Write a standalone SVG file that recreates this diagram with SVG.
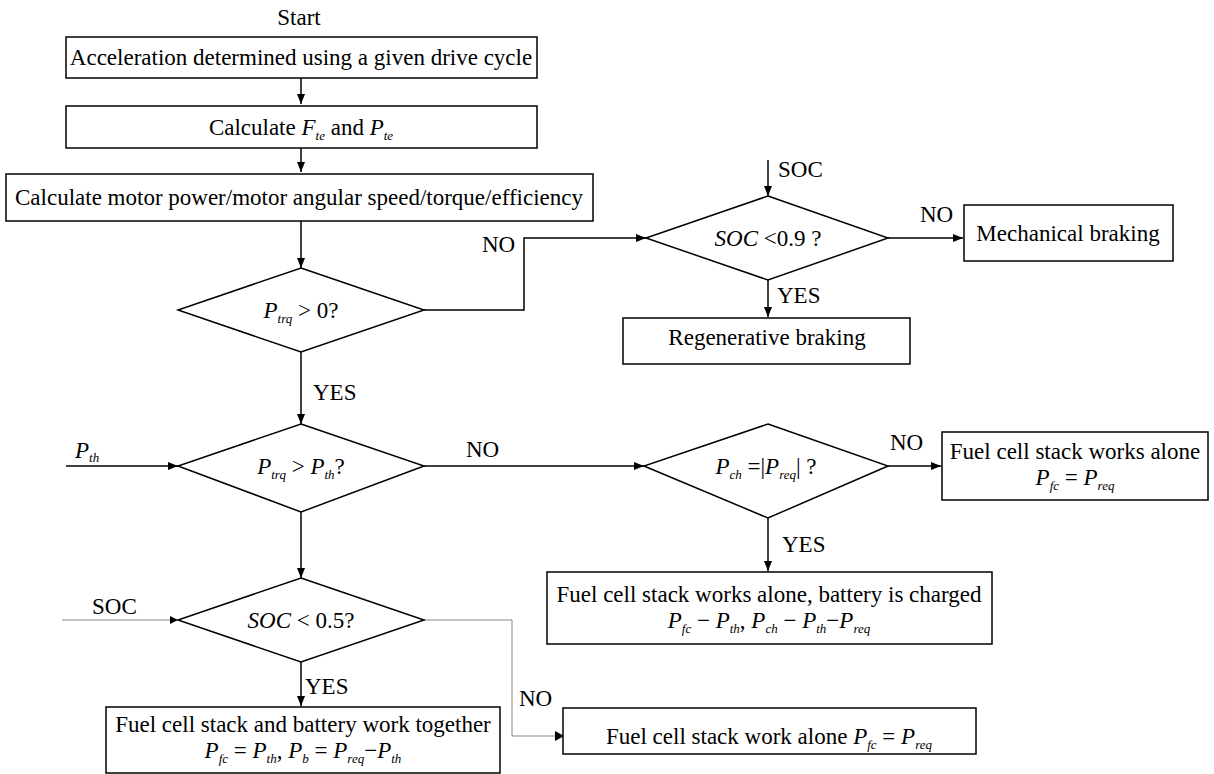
<svg xmlns="http://www.w3.org/2000/svg" width="1214" height="774" viewBox="0 0 1214 774" font-family="'Liberation Serif', 'DejaVu Serif', serif">
<defs>
<marker id="ah" viewBox="0 0 10 10" refX="10" refY="5" markerWidth="10" markerHeight="10" markerUnits="userSpaceOnUse" orient="auto">
<path d="M0,1 L10,5 L0,9 Z" fill="#000"/>
</marker>
<style>
text{font-family:'Liberation Serif','DejaVu Serif',serif;font-size:23px;fill:#000}
.c{text-anchor:middle}
.i{font-style:italic}
.s{font-size:13px;font-style:italic}
.box{fill:#fff;stroke:#000;stroke-width:1.5}
.ln{fill:none;stroke:#000;stroke-width:1.5}
.gl{fill:none;stroke:#888;stroke-width:1}
</style>
</defs>
<rect width="1214" height="774" fill="#fff"/>
<g id="connectors">
<path class="ln" d="M301,78 V104" marker-end="url(#ah)"/>
<path class="ln" d="M301,148 V172" marker-end="url(#ah)"/>
<path class="ln" d="M301,221 V268" marker-end="url(#ah)"/>
<path class="ln" d="M424,310 H524 V238 H646" marker-end="url(#ah)"/>
<path class="ln" d="M768,160 V196" marker-end="url(#ah)"/>
<path class="ln" d="M888,238 H963" marker-end="url(#ah)"/>
<path class="ln" d="M768,280 V317" marker-end="url(#ah)"/>
<path class="ln" d="M301,352 V424" marker-end="url(#ah)"/>
<path class="ln" d="M66,466 H178" marker-end="url(#ah)"/>
<path class="ln" d="M424,466 H644" marker-end="url(#ah)"/>
<path class="ln" d="M888,466 H941" marker-end="url(#ah)"/>
<path class="ln" d="M768,518 V571" marker-end="url(#ah)"/>
<path class="ln" d="M301,512 V578" marker-end="url(#ah)"/>
<path class="gl" d="M62,620 H170"/>
<path d="M170,616 L178,620 L170,624 Z" fill="#000"/>
<path class="ln" d="M301,662 V706" marker-end="url(#ah)"/>
<path class="gl" d="M424,620 H512 V736 H555"/>
<path d="M555,731 L564,736 L555,741 Z" fill="#000"/>
<text x="299" y="25" class="c">Start</text>
<text x="482" y="252">NO</text>
<text x="313" y="400">YES</text>
<text x="75" y="458" class="i">P<tspan class="s" dy="4">th</tspan></text>
<text x="466" y="457">NO</text>
<text x="890" y="450">NO</text>
<text x="782" y="552">YES</text>
<text x="92" y="614">SOC</text>
<text x="305" y="694">YES</text>
<text x="519" y="706">NO</text>
<text x="778" y="177">SOC</text>
<text x="920" y="222">NO</text>
<text x="777" y="303">YES</text>
</g>
<g id="n_start_box">
<rect class="box" x="66" y="37" width="471" height="41"/>
<text x="301" y="65" class="c">Acceleration determined using a given drive cycle</text>
</g>
<g id="n_calc_fte">
<rect class="box" x="66" y="106" width="471" height="42"/>
<text x="301" y="135" class="c">Calculate <tspan class="i">F</tspan><tspan class="s" dy="5">te</tspan><tspan dy="-5"> and </tspan><tspan class="i">P</tspan><tspan class="s" dy="5">te</tspan></text>
</g>
<g id="n_motor">
<rect class="box" x="6" y="174" width="587" height="47"/>
<text x="299" y="205" class="c">Calculate motor power/motor angular speed/torque/efficiency</text>
</g>
<g id="d_ptrq0">
<polygon class="box" points="301,268 424,310 301,352 178,310"/>
<text x="301" y="318" class="c"><tspan class="i">P</tspan><tspan class="s" dy="5">trq</tspan><tspan dy="-5"> &gt; 0?</tspan></text>
</g>
<g id="d_soc09">
<polygon class="box" points="768,196 888,238 768,280 646,238"/>
<text x="768" y="246" class="c"><tspan class="i">SOC</tspan> &lt;0.9 ?</text>
</g>
<g id="n_mech">
<rect class="box" x="964" y="205" width="209" height="56"/>
<text x="1068" y="241" class="c">Mechanical braking</text>
</g>
<g id="n_regen">
<rect class="box" x="623" y="318" width="287" height="46"/>
<text x="767" y="345" class="c">Regenerative braking</text>
</g>
<g id="d_ptrq_pth">
<polygon class="box" points="301,424 424,466 301,512 178,466"/>
<text x="301" y="474" class="c"><tspan class="i">P</tspan><tspan class="s" dy="5">trq</tspan><tspan dy="-5"> &gt; </tspan><tspan class="i">P</tspan><tspan class="s" dy="5">th</tspan><tspan dy="-5">?</tspan></text>
</g>
<g id="d_pch">
<polygon class="box" points="768,424 888,466 768,518 644,466"/>
<text x="766" y="474" class="c"><tspan class="i">P</tspan><tspan class="s" dy="5">ch</tspan><tspan dy="-5"> =|</tspan><tspan class="i">P</tspan><tspan class="s" dy="5">req</tspan><tspan dy="-5">| ?</tspan></text>
</g>
<g id="n_fc_alone">
<rect class="box" x="942" y="432" width="266" height="68"/>
<text x="1075" y="459" class="c">Fuel cell stack works alone</text>
<text x="1075" y="485" class="c"><tspan class="i">P</tspan><tspan class="s" dy="5">fc</tspan><tspan dy="-5"> = </tspan><tspan class="i">P</tspan><tspan class="s" dy="5">req</tspan></text>
</g>
<g id="n_fc_charged">
<rect class="box" x="547" y="572" width="445" height="72"/>
<text x="769" y="602" class="c">Fuel cell stack works alone, battery is charged</text>
<text x="769" y="628" class="c"><tspan class="i">P</tspan><tspan class="s" dy="5">fc</tspan><tspan dy="-5"> − </tspan><tspan class="i">P</tspan><tspan class="s" dy="5">th</tspan><tspan dy="-5">, </tspan><tspan class="i">P</tspan><tspan class="s" dy="5">ch</tspan><tspan dy="-5"> − </tspan><tspan class="i">P</tspan><tspan class="s" dy="5">th</tspan><tspan dy="-5">−</tspan><tspan class="i">P</tspan><tspan class="s" dy="5">req</tspan></text>
</g>
<g id="d_soc05">
<polygon class="box" points="301,578 424,620 301,662 178,620"/>
<text x="301" y="628" class="c"><tspan class="i">SOC</tspan> &lt; 0.5?</text>
</g>
<g id="n_together">
<rect class="box" x="106" y="707" width="394" height="66"/>
<text x="303" y="732" class="c">Fuel cell stack and battery work together</text>
<text x="303" y="758" class="c"><tspan class="i">P</tspan><tspan class="s" dy="5">fc</tspan><tspan dy="-5"> = </tspan><tspan class="i">P</tspan><tspan class="s" dy="5">th</tspan><tspan dy="-5">, </tspan><tspan class="i">P</tspan><tspan class="s" dy="5">b</tspan><tspan dy="-5"> = </tspan><tspan class="i">P</tspan><tspan class="s" dy="5">req</tspan><tspan dy="-5">−</tspan><tspan class="i">P</tspan><tspan class="s" dy="5">th</tspan></text>
</g>
<g id="n_fc_work_alone">
<rect class="box" x="563" y="708" width="413" height="46"/>
<text x="769" y="744" class="c">Fuel cell stack work alone <tspan class="i">P</tspan><tspan class="s" dy="5">fc</tspan><tspan dy="-5"> = </tspan><tspan class="i">P</tspan><tspan class="s" dy="5">req</tspan></text>
</g>
</svg>
